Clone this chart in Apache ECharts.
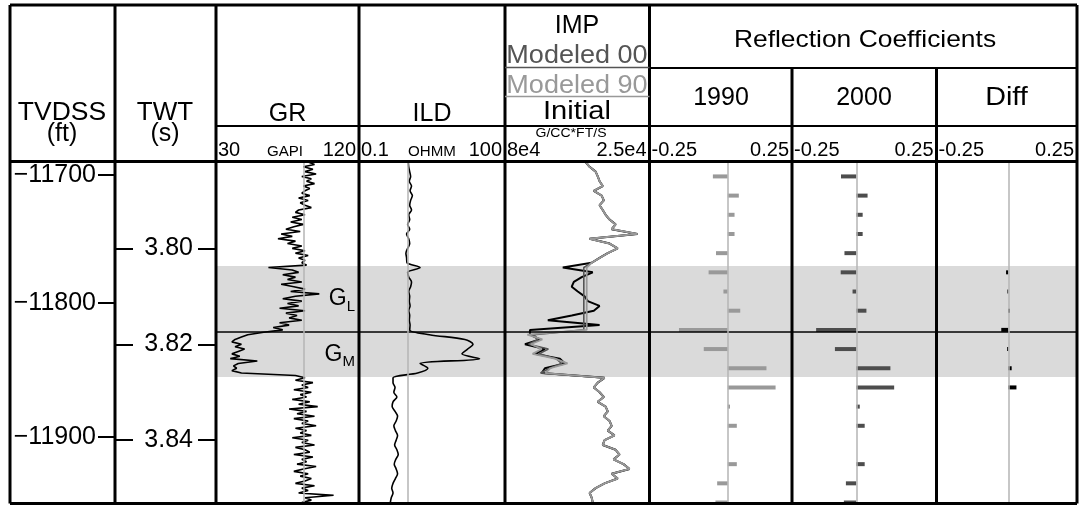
<!DOCTYPE html>
<html>
<head>
<meta charset="utf-8">
<script src="https://cdn.jsdelivr.net/npm/echarts@6/dist/echarts.min.js"></script>
<style>
  html, body { margin: 0; padding: 0; background: #fff; }
  #chart { width: 1083px; height: 506px; }
</style>
</head>
<body>
<div id="chart"></div>
<script>
// ---------------- data ----------------
// Log samples on a regular two-way-time grid (seconds)
const logTop = 3.782;
const grStep = 0.0005;
const logStep = 0.001;

// Gamma ray (GAPI), 0.5 ms samples
const grValues = [
  88, 92, 85, 91, 86, 93, 84, 90, 87, 92, 85, 89, 86,
  84, 89, 82, 88, 83, 86, 90, 82,
  80, 86, 78, 84, 77, 85, 79,
  74, 83, 71, 78, 69, 80, 75, 84,
  78, 86, 80, 88, 82, 86,
  84, 87, 63, 78,
  82, 72, 80, 75, 84, 71, 79, 86, 77,
  95,
  80, 72, 84, 75, 82, 70, 86, 74, 81, 76, 84,
  70, 76, 66, 72,
  60, 50, 46, 42,
  40, 46, 42, 48,
  44, 40, 45, 39,
  56, 44, 41, 43, 40, 46,
  80,
  86, 80, 91, 84, 88, 79, 90, 83, 87,
  78, 89, 82, 94, 76, 87, 81, 92, 79, 88, 84, 93, 80, 87,
  83, 90, 78, 88, 84, 92, 80, 86, 89, 79, 91, 84, 87, 81, 93, 85, 79, 88, 83, 90,
  86, 80, 92, 84, 88, 82, 104, 86, 90,
  84
];

// Deep induction resistivity (ohm.m), 1 ms samples
const ildValues = [
  1.03, 1.05, 1.1, 1.15, 1.08, 1.2,
  1.12, 1.25, 1.15, 1.1, 1.2, 1.05, 1.1,
  1.0, 1.1, 0.95, 1.05, 1.1, 1.0, 0.92, 0.95, 0.97,
  1.8,
  1.0, 1.05, 1.2, 1.15, 1.05, 1.1, 1.08, 1.12, 1.05, 1.1, 1.08, 1.12, 1.1,
  2.8, 15, 22, 17, 13, 30, 1.8, 2.6, 1.6, 0.5,
  0.5, 0.55, 0.52, 0.6, 0.5, 0.48, 0.55, 0.62, 0.58, 0.52, 0.56, 0.62, 0.58,
  0.54, 0.6, 0.64, 0.57, 0.53, 0.58, 0.62, 0.56, 0.5, 0.47, 0.5, 0.46, 0.44
];

// Acoustic impedance (G/CC*FT/S), 1 ms samples
const impInitial = [
  49300, 47800, 45500, 44700, 44000, 42800, 46200, 43200, 42400, 44000, 42800,
  41700, 40200, 37900, 39400, 29600, 47800, 40200, 37100, 40900, 44000, 47000,
  58000, 46600, 50800, 53800, 54600, 52300, 49700, 48500, 44000, 46200, 54600,
  63700, 44000, 70500,
  70500, 66700, 72400, 64800, 68600, 59100, 57200, 64800, 66000,
  42100, 44700, 46200, 44000, 42400, 44700, 41700, 40900, 42400, 40200, 39400,
  40900, 38300, 42100, 42800, 37900, 36400, 38700, 34900, 32600, 39400, 37100,
  42100, 45500, 47800, 47000, 46600
];
// Modeled impedance inside the inversion window (from sample impZoneStart)
const impZoneStart = 22;
const impModeled00Zone = [
  50000, 50000, 50000, 50000, 50000, 50000, 50000, 50000, 50000, 50000, 50000,
  50000, 50000, 50000,
  69000, 67500, 71000, 63500, 67000, 60500, 58500, 63000, 66500
];
const impModeled90Zone = [
  48900, 48900, 48900, 48900, 48900, 48900, 48900, 48900, 48900, 48900, 48900,
  48900, 48900, 48900,
  71500, 65800, 70200, 66000, 69500, 61000, 56200, 62800, 64600
];

// Reflection coefficients, 4 ms samples
const rcTwt = [3.785, 3.789, 3.793, 3.797, 3.801, 3.805, 3.809, 3.813, 3.817,
               3.821, 3.825, 3.829, 3.833, 3.837, 3.841, 3.845, 3.849, 3.853];
const rc1990 = [-0.052, 0.039, 0.024, 0.024, -0.041, -0.067, -0.015, 0.044, -0.171,
                -0.084, 0.136, 0.168, 0.008, 0.032, 0, 0.032, -0.037, -0.043];
const rc2000 = [-0.053, 0.039, 0.022, 0.022, -0.041, -0.054, -0.013, 0.035, -0.139,
                -0.074, 0.118, 0.131, 0.012, 0.029, 0, 0.029, -0.036, -0.043];
const rcDiff = [0, 0, 0, 0, 0, -0.008, -0.003, 0.006, -0.025,
                -0.004, 0.012, 0.029, 0, 0, 0, 0, 0, 0];

// Horizons: top G_L, top G_M, base G_M (TWT)
const horizonTwt = [3.8037, 3.8174, 3.8268];
const zoneNames = ['L', 'M'];

// Depth axis ties and time ticks
const depthTicks = [-11700, -11800, -11900];
const depthTickTwt = [3.7847, 3.8114, 3.8393];
const twtTicks = [3.80, 3.82, 3.84];

// Reference cutoffs
const grCutoff = 85;
const ildCutoff = 1;

// Header text
const trackTitles = ['GR', 'ILD', 'Reflection Coefficients'];
const rcYears = ['1990', '2000', 'Diff'];
const scaleLeft = ['30', '0.1', '8e4', '-0.25', '-0.25', '-0.25'];
const scaleRight = ['120', '100', '2.5e4', '0.25', '0.25', '0.25'];
const scaleUnits = ['GAPI', 'OHMM', 'G/CC*FT/S'];
const impLegend = ['IMP', 'Modeled 00', 'Modeled 90', 'Initial'];

// ---------------- chart ----------------
const FONT = '"Liberation Sans", Arial, Helvetica, sans-serif';
const Y_MIN = 3.7822, Y_MAX = 3.8531;
const TOP = 163, HEIGHT = 340;

const grid = (left, width) => ({ left, width, top: TOP, height: HEIGHT, show: false });
const grids = [
  grid(10, 105),     // TVDSS
  grid(115, 101),    // TWT
  grid(216, 143),    // GR
  grid(359, 146),    // ILD
  grid(505, 144.5),  // IMP
  grid(649.5, 142.5),// RC 1990
  grid(792, 144.5),  // RC 2000
  grid(936.5, 140.5) // RC diff
];

const hiddenX = (gridIndex, extra) => Object.assign({
  gridIndex, type: 'value', show: false, splitLine: { show: false }
}, extra || {});
const xAxes = [
  hiddenX(0, { min: 0, max: 1 }), hiddenX(1, { min: 0, max: 1 }),
  hiddenX(2, { min: 30, max: 120 }),
  hiddenX(3, { type: 'log', logBase: 10, min: 0.1, max: 100 }),
  hiddenX(4, { min: 25000, max: 80000, inverse: true }),
  hiddenX(5, { min: -0.2744, max: 0.2256 }),
  hiddenX(6, { min: -0.2225, max: 0.2775 }),
  hiddenX(7, { min: -0.2555, max: 0.2445 })
];

const baseY = (gridIndex) => ({
  gridIndex, type: 'value', min: Y_MIN, max: Y_MAX, inverse: true,
  splitLine: { show: false }
});
const tickStyle = { color: '#000', width: 2 };
const noLine = { show: false, onZero: false };
const yAxes = [
  Object.assign(baseY(0), {
    position: 'right',
    axisLine: noLine,
    axisTick: { show: true, inside: true, length: 17, lineStyle: tickStyle, customValues: depthTickTwt },
    axisLabel: {
      show: true, inside: true, margin: 19, color: '#000', fontSize: 25, fontFamily: FONT,
      customValues: depthTickTwt,
      formatter: (v) => {
        const k = depthTickTwt.findIndex(t => Math.abs(t - v) < 1e-6);
        return k < 0 ? '' : (depthTicks[k] < 0 ? '\u2212' : '') + Math.abs(depthTicks[k]);
      }
    }
  }),
  Object.assign(baseY(1), {
    position: 'left',
    axisLine: noLine,
    axisTick: { show: true, inside: true, length: 18, lineStyle: tickStyle, customValues: twtTicks },
    axisLabel: { show: false }
  }),
  Object.assign(baseY(1), {
    position: 'right',
    axisLine: noLine,
    axisTick: { show: true, inside: true, length: 18, lineStyle: tickStyle, customValues: twtTicks },
    axisLabel: {
      show: true, inside: true, margin: 23, color: '#000', fontSize: 25, fontFamily: FONT,
      customValues: twtTicks, formatter: (v) => v.toFixed(2)
    }
  }),
  Object.assign(baseY(2), { show: false }),
  Object.assign(baseY(3), { show: false }),
  Object.assign(baseY(4), { show: false }),
  Object.assign(baseY(5), { show: false }),
  Object.assign(baseY(6), { show: false }),
  Object.assign(baseY(7), { show: false })
];

// Zone shading, horizon line and reference line for a track
const zoneAreas = [
  [{ yAxis: horizonTwt[0], name: zoneNames[0] }, { yAxis: horizonTwt[1] }],
  [{ yAxis: horizonTwt[1], name: zoneNames[1] }, { yAxis: horizonTwt[2] }]
];
function decor(refX, zoneLabels) {
  const lines = [{ yAxis: horizonTwt[1], lineStyle: { color: '#000', width: 1.5, type: 'solid' } }];
  if (refX !== null) lines.push({ xAxis: refX, lineStyle: { color: '#b4b4b4', width: 1.5, type: 'solid' } });
  return {
    markArea: {
      silent: true,
      itemStyle: { color: '#dadada' },
      label: zoneLabels ? {
        show: true, position: 'insideRight', distance: 4, color: '#000',
        formatter: (p) => '{g|G}{s|' + p.name + '}',
        rich: {
          g: { fontSize: 23, fontFamily: FONT, color: '#000', lineHeight: 26, verticalAlign: 'middle' },
          s: { fontSize: 15, fontFamily: FONT, color: '#000', lineHeight: 26, verticalAlign: 'middle', padding: [16, 0, 0, 0] }
        }
      } : { show: false },
      data: zoneAreas
    },
    markLine: { silent: true, symbol: 'none', precision: 5, label: { show: false }, animation: false, data: lines }
  };
}

const gridPairs = (arr, step) => arr.map((v, i) => [v, +(logTop + i * step).toFixed(4)]);
const withZone = (zone) => impInitial.map((v, i) =>
  (i >= impZoneStart && i < impZoneStart + zone.length) ? zone[i - impZoneStart] : v);

function logLine(xi, yi, data, color, width, extra) {
  return Object.assign({
    type: 'line', xAxisIndex: xi, yAxisIndex: yi, data,
    showSymbol: false, symbol: 'none', clip: true,
    lineStyle: { color, width }, silent: true
  }, extra || {});
}

function rcSeries(xi, yi, values, color) {
  return Object.assign({
    type: 'custom', xAxisIndex: xi, yAxisIndex: yi, clip: true, silent: true,
    data: values.map((v, i) => [v, rcTwt[i]]),
    encode: { x: 0, y: 1 },
    renderItem(params, api) {
      const v = api.value(0), t = api.value(1);
      const a = api.coord([0, t]), b = api.coord([v, t]);
      return {
        type: 'rect',
        shape: { x: Math.min(a[0], b[0]), y: a[1] - 2, width: Math.abs(b[0] - a[0]), height: 4 },
        style: { fill: color }
      };
    }
  }, decor(0, false));
}

const series = [
  logLine(2, 3, gridPairs(grValues, grStep), '#000', 1.6, decor(grCutoff, true)),
  logLine(3, 4, gridPairs(ildValues, logStep), '#000', 1.6, Object.assign({ smooth: 0.3 }, decor(ildCutoff, false))),
  logLine(4, 5, gridPairs(impInitial, logStep), '#000', 2, decor(null, false)),
  logLine(4, 5, gridPairs(withZone(impModeled00Zone), logStep), '#555', 1.6),
  logLine(4, 5, gridPairs(withZone(impModeled90Zone), logStep), '#999', 1.8),
  rcSeries(5, 6, rc1990, '#999'),
  rcSeries(6, 7, rc2000, '#4d4d4d'),
  rcSeries(7, 8, rcDiff, '#000')
];

// Table frame and header
const L = (x1, y1, x2, y2, w, c) => ({
  type: 'line', z: 100, silent: true,
  shape: { x1, y1, x2, y2 }, style: { stroke: c || '#000', lineWidth: w || 3 }
});
const T = (text, x, y, size, align, color, sx) => ({
  type: 'text', z: 100, silent: true, x, y, scaleX: sx || 1,
  style: {
    text, x: 0, y: 0, fill: color || '#000', font: size + 'px ' + FONT,
    textAlign: align || 'center', align: align || 'center',
    textVerticalAlign: 'middle', verticalAlign: 'middle'
  }
});
const trackEdges = [216, 359, 505, 649.5, 792, 936.5, 1077];
const elements = [
  L(10, 5, 1077, 5), L(10, 503.5, 1077, 503.5), L(10, 5, 10, 503.5), L(1077, 5, 1077, 503.5),
  L(115, 5, 115, 503.5), L(216, 5, 216, 503.5), L(359, 5, 359, 503.5),
  L(505, 5, 505, 503.5), L(649.5, 5, 649.5, 503.5),
  L(792, 68, 792, 503.5), L(936.5, 68, 936.5, 503.5),
  L(10, 161.5, 1077, 161.5),
  L(216, 126, 1077, 126, 2),
  L(649.5, 68, 1077, 68, 2),
  L(505, 67.5, 649.5, 67.5, 1.5, '#555'),
  L(505, 96.5, 649.5, 96.5, 1.5, '#999'),
  T('TVDSS', 62, 113, 25, 'center', '#000', 1.06), T('(ft)', 62, 134, 25),
  T('TWT', 165, 113, 25, 'center', '#000', 1.04), T('(s)', 165, 134, 25),
  T(trackTitles[0], 287.5, 114, 25),
  T(trackTitles[1], 432, 114, 25),
  T(impLegend[0], 577, 26, 25),
  T(impLegend[1], 577, 56, 26, 'center', '#555', 1.04),
  T(impLegend[2], 577, 86, 26, 'center', '#999', 1.04),
  T(impLegend[3], 577, 112, 26, 'center', '#000', 1.12),
  T(trackTitles[2], 865, 40, 24, 'center', '#000', 1.1),
  T(rcYears[0], 721, 98, 25), T(rcYears[1], 864, 98, 25), T(rcYears[2], 1006.5, 98, 25, 'center', '#000', 1.15),
  T(scaleUnits[0], 285, 152, 14, 'center', '#000', 1.08),
  T(scaleUnits[1], 432, 152, 14, 'center', '#000', 1.08),
  T(scaleUnits[2], 571, 133, 13, 'center', '#000', 1.08)
];
for (let k = 0; k < 6; k++) {
  elements.push(T(scaleLeft[k], trackEdges[k] + 2, 150, 20, 'left'));
  elements.push(T(scaleRight[k], trackEdges[k + 1] - 3, 150, 20, 'right'));
}

const chart = echarts.init(document.getElementById('chart'), null, { renderer: 'canvas' });
chart.setOption({
  animation: false,
  backgroundColor: '#fff',
  textStyle: { fontFamily: FONT },
  grid: grids,
  xAxis: xAxes,
  yAxis: yAxes,
  series,
  graphic: { elements }
});
</script>
</body>
</html>
